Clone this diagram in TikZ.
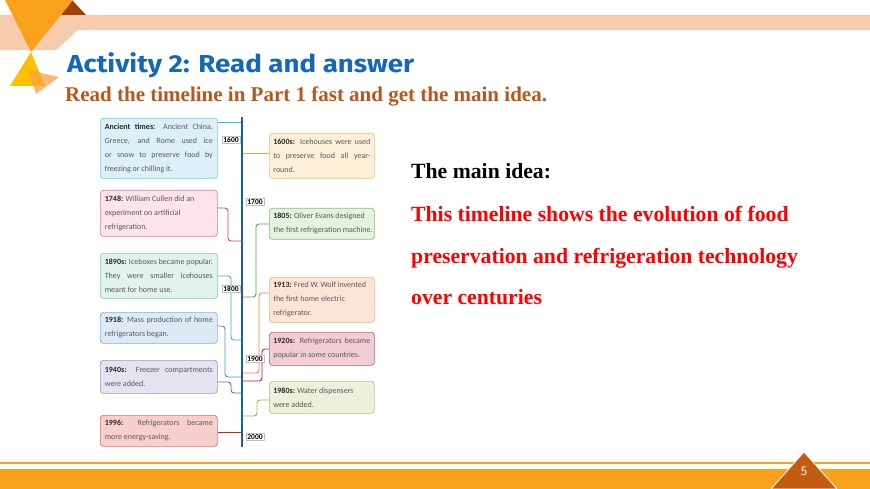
\documentclass[tikz,border=0pt]{standalone}
\usepackage{fontspec}
\setmainfont{Liberation Serif}
\newfontfamily\boxfont{Carlito}
\newfontfamily\headfont{Fira Sans}
\definecolor{peach}{HTML}{F8CBAD}
\definecolor{orA}{HTML}{F9A11B}
\definecolor{brn}{HTML}{A0410D}
\definecolor{ylw}{HTML}{FFC000}
\definecolor{ttl}{HTML}{1467BA}
\definecolor{sub}{HTML}{B8561E}
\definecolor{tlc}{HTML}{1F5BAA}
\definecolor{pgc}{HTML}{C55A11}
\definecolor{aD}{HTML}{7CC8E4}\definecolor{aF}{HTML}{DDF0F8}\definecolor{aL}{HTML}{3DB8E0}
\definecolor{bD}{HTML}{E87A98}\definecolor{bF}{HTML}{FCE4EA}\definecolor{bL}{HTML}{D63C78}
\definecolor{cD}{HTML}{79C7B8}\definecolor{cF}{HTML}{E2F3EF}\definecolor{cL}{HTML}{3AB3A5}
\definecolor{dD}{HTML}{7FB0DB}\definecolor{dF}{HTML}{DDEAF6}\definecolor{dL}{HTML}{4B94B8}
\definecolor{eD}{HTML}{A095C8}\definecolor{eF}{HTML}{E6E2F0}\definecolor{eL}{HTML}{7D5CB5}
\definecolor{fD}{HTML}{E86A6A}\definecolor{fF}{HTML}{F8CECE}\definecolor{fL}{HTML}{D82027}
\definecolor{gD}{HTML}{F5BC6A}\definecolor{gF}{HTML}{FEEFD8}\definecolor{gL}{HTML}{F2A23A}
\definecolor{hD}{HTML}{7DC27D}\definecolor{hF}{HTML}{E4F2DF}\definecolor{hL}{HTML}{4DAA4D}
\definecolor{iD}{HTML}{F4B183}\definecolor{iF}{HTML}{FCE4D6}\definecolor{iL}{HTML}{EE7F3A}
\definecolor{jD}{HTML}{D0587A}\definecolor{jF}{HTML}{F2CED4}\definecolor{jL}{HTML}{C6164F}
\definecolor{kD}{HTML}{B8C77A}\definecolor{kF}{HTML}{EDF0DB}\definecolor{kL}{HTML}{A5B545}
\newcommand\hd[1]{{\bfseries\color{black!85}#1}}
\begin{document}
\begin{tikzpicture}[x=1pt,y=-1pt,line join=round,
  ev/.style n args={3}{draw=#1D, fill=#1F, minimum height=#3, rounded corners=3pt, line width=0.7pt,
    anchor=north west, align=justify, inner ysep=3pt, text=black!65,
    font=\boxfont\fontsize{8}{14}\selectfont},
  lb/.style={text width=108pt, inner xsep=4.5pt},
  rb/.style={text width=97pt, inner xsep=4pt},
  ln/.style={draw=#1L, line width=0.9pt, rounded corners=3pt},
  yr/.style={draw=black!25, fill=white, inner xsep=1.2pt, inner ysep=1pt, font=\boxfont\bfseries\fontsize{7.5}{8}\selectfont},
  big/.style={anchor=base west, inner sep=0pt, font=\bfseries\fontsize{21.7}{22}\selectfont}]
\useasboundingbox (0,0) rectangle (870,489);
\fill[peach] (0,15) -- (870,15) -- (870,30) -- (78,30) -- (56,50) -- (0,50) -- cycle;
\fill[brn] (72,0) -- (61,15) -- (86,15) -- cycle;
\fill[orA] (5,0) -- (73,0) -- (31,52) -- cycle;
\fill[ylw] (31,52) -- (10,86) -- (45,86) -- cycle;
\fill[orange!60!peach, opacity=0.75] (28,70) -- (59,77) -- (36,94) -- cycle;
\fill[orA] (0,462) rectangle (870,464);
\fill[orA] (0,469) rectangle (870,489);
\filldraw[fill=pgc, draw=white, line width=0.8pt] (804,452) -- (771,489) -- (837,489) -- cycle;
\node[text=white, font=\sffamily\fontsize{13}{13}\selectfont] (pg) at (804,471) {5};

\node[anchor=base west, inner sep=0pt, text=ttl, font=\headfont\bfseries\fontsize{24.5}{25}\selectfont] (title) at (67,73) {\scalebox{1.13}[1]{Activity 2: Read and answer}};
\node[anchor=base west, inner sep=0pt, text=sub, font=\bfseries\fontsize{21}{21}\selectfont] (task) at (65,102) {Read the timeline in Part 1 fast and get the main idea.};

\node[big] (mi) at (411,179) {The main idea:};
\node[big, text=red] (m1) at (411,222) {This timeline shows the evolution of food};
\node[big, text=red] (m2) at (411,263) {preservation and refrigeration technology};
\node[big, text=red] (m3) at (411,304) {over centuries};

\coordinate (tl) at (242,117);
\coordinate (te) at (242,447);

\node[ev={a}{}{60pt}, lb] (anc) at (100,118) {\hd{Ancient times:} Ancient China,\linebreak Greece, and Rome used ice\linebreak or snow to preserve food by\linebreak freezing or chilling it.};
\node[ev={b}{}{46pt}, lb] (b1748) at (100,190) {\hd{1748:} William Cullen did an\\ experiment on artificial\\ refrigeration.};
\node[ev={c}{}{45pt}, lb] (b1890) at (100,253) {\hd{1890s:} Iceboxes became popular.\linebreak They were smaller icehouses\linebreak meant for home use.};
\node[ev={d}{}{31pt}, lb] (b1918) at (100,312) {\hd{1918:} Mass production of home\linebreak refrigerators began.};
\node[ev={e}{}{33pt}, lb] (b1940) at (100,360) {\hd{1940s:} Freezer compartments\linebreak were added.};
\node[ev={f}{}{31pt}, lb] (b1996) at (100,415) {\hd{1996:} Refrigerators became\linebreak more energy-saving.};

\node[ev={g}{}{45pt}, rb] (b1600) at (269,133) {\hd{1600s:} Icehouses were used\linebreak to preserve food all year-\linebreak round.};
\node[ev={h}{}{31pt}, rb] (b1805) at (269,208) {\hd{1805:} Oliver Evans designed\\ \mbox{the first refrigeration machine.}};
\node[ev={i}{}{45pt}, rb] (b1913) at (269,277) {\hd{1913:} Fred W. Wolf invented\\ the first home electric\\ refrigerator.};
\node[ev={j}{}{33pt}, rb] (b1920) at (269,332) {\hd{1920s:} Refrigerators became\linebreak popular in some countries.};
\node[ev={k}{}{32pt}, rb] (b1980) at (269,381) {\hd{1980s:} Water dispensers\\ were added.};

\draw[ln=a] (anc.east |- 0,122) -- (tl |- 0,122);
\draw[ln=b] (b1748.east |- 0,208) -- (228,208) -- (228,241) -- (tl |- 0,241);
\draw[ln=c] (b1890.east |- 0,276) -- (231,276) -- (231,340) -- (tl |- 0,340);
\draw[ln=d] (b1918.east |- 0,326) -- (225,326) -- (225,377) -- (tl |- 0,377);
\draw[ln=e] (b1940.east |- 0,382) -- (231,382) -- (231,393) -- (tl |- 0,393);
\draw[ln=f] (b1996.east |- 0,432) -- (tl |- 0,432);

\draw[ln=g] (tl |- 0,153) -- (b1600.west |- 0,153);
\draw[ln=h] (tl |- 0,297) -- (256,297) -- (256,224) -- (b1805.west |- 0,224);
\draw[ln=i] (tl |- 0,373) -- (259,373) -- (259,293) -- (b1913.west |- 0,293);
\draw[ln=j] (tl |- 0,381) -- (262,381) -- (262,349) -- (b1920.west |- 0,349);
\draw[ln=k] (tl |- 0,416) -- (257,416) -- (257,400) -- (b1980.west |- 0,400);

\draw[tlc, line width=2.4pt] (tl) -- (te);

\node[yr] (y1600) at (231,140) {1600};
\node[yr] (y1700) at (255,202) {1700};
\node[yr] (y1800) at (231,289) {1800};
\node[yr] (y1900) at (255,359) {1900};
\node[yr] (y2000) at (255,437) {2000};
\end{tikzpicture}
\end{document}
